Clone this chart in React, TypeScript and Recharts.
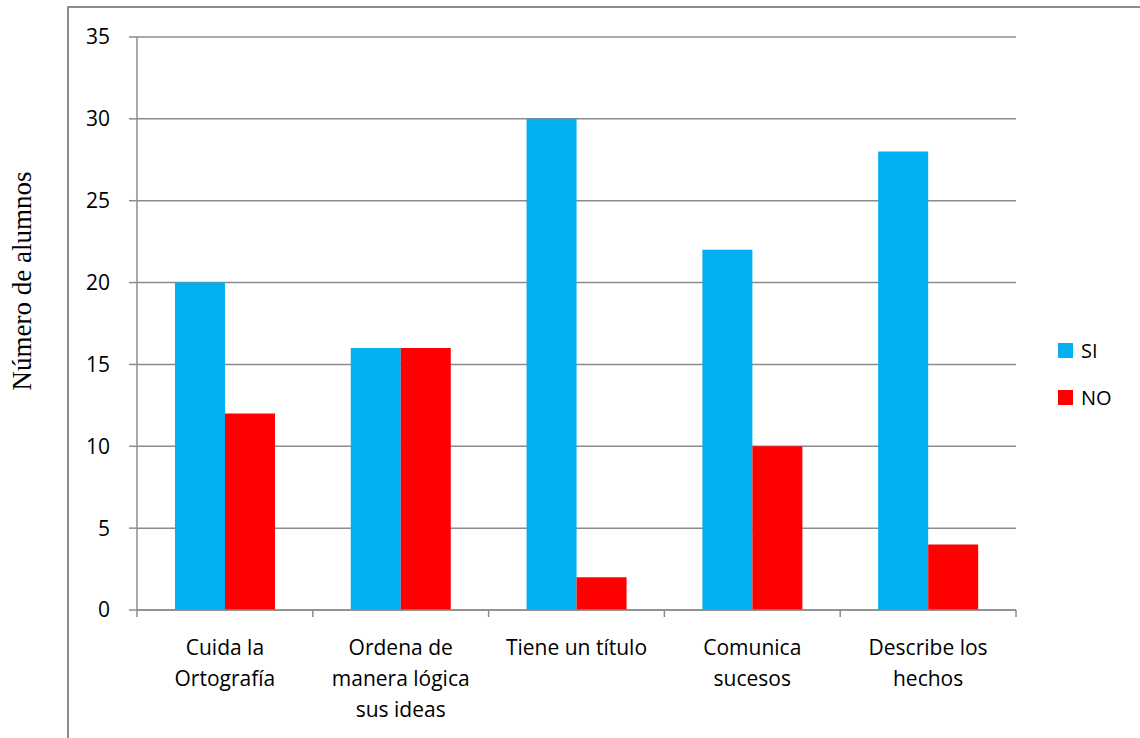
import React from 'react';
import { Bar, BarChart, CartesianGrid, XAxis, YAxis } from 'recharts';

const categories = [
  'Cuida la\nOrtografía',
  'Ordena de\nmanera lógica\nsus ideas',
  'Tiene un título',
  'Comunica\nsucesos',
  'Describe los\nhechos',
];
const siValues = [20, 16, 30, 22, 28];
const noValues = [12, 16, 2, 10, 4];
const yTicks = [0, 5, 10, 15, 20, 25, 30, 35];

const data = categories.map((name, i) => ({ name, SI: siValues[i], NO: noValues[i] }));

const W = 1140;
const H = 738;
const M = { top: 37, right: 124, bottom: 0, left: 0 };
const X_H = 128;
const Y_W = 137;
const BAND = (W - M.right - Y_W) / categories.length;
const FONT = '"Open Sans", sans-serif';
const GRID = '#8c8c8c';

const CategoryTick = ({ x, y, payload, index }: any) => {
  const lines = String(payload.value).split('\n');
  return (
    <g>
      <line x1={x - BAND / 2} x2={x - BAND / 2} y1={y} y2={y + 7} stroke={GRID} strokeWidth={1.5} />
      {index === categories.length - 1 && (
        <line x1={x + BAND / 2} x2={x + BAND / 2} y1={y} y2={y + 7} stroke={GRID} strokeWidth={1.5} />
      )}
      <text textAnchor="middle" fontFamily={FONT} fontSize={21} fill="#000">
        {lines.map((l, i) => (
          <tspan key={i} x={x} y={y + 45 + i * 31}>
            {l}
          </tspan>
        ))}
      </text>
    </g>
  );
};

const legendItems = [
  { label: 'SI', color: '#00B0F0' },
  { label: 'NO', color: '#FF0000' },
];

export default function App() {
  return (
    <div style={{ position: 'absolute', left: 0, top: 0, width: W, height: H, overflow: 'hidden', background: '#fff' }}>
      <div
        style={{
          position: 'absolute',
          left: 67,
          top: 6,
          width: W,
          height: H,
          borderLeft: `2px solid ${GRID}`,
          borderTop: `2px solid ${GRID}`,
        }}
      />
      <div
        style={{
          position: 'absolute',
          left: 22,
          top: 281,
          transform: 'translate(-50%, -50%) rotate(-90deg)',
          whiteSpace: 'nowrap',
          fontFamily: '"Liberation Serif", serif',
          fontSize: 27,
          color: '#000',
        }}
      >
        Número de alumnos
      </div>
      <BarChart
        width={W}
        height={H}
        data={data}
        margin={M}
        barCategoryGap="21.6%"
        barGap={0}
        style={{ position: 'absolute', left: 0, top: 0 }}
      >
        <CartesianGrid vertical={false} stroke={GRID} strokeWidth={1.5} />
        <YAxis
          width={Y_W}
          domain={[0, 35]}
          ticks={yTicks}
          interval={0}
          tickSize={8}
          tickMargin={19}
          axisLine={{ stroke: GRID, strokeWidth: 1.5 }}
          tickLine={{ stroke: GRID, strokeWidth: 1.5 }}
          tick={{ fontFamily: FONT, fontSize: 21, fill: '#000' }}
        />
        <XAxis
          dataKey="name"
          interval={0}
          tickSize={0}
          tickMargin={0}
          height={X_H}
          axisLine={{ stroke: GRID, strokeWidth: 1.5 }}
          tickLine={false}
          tick={<CategoryTick />}
        />
        <Bar dataKey="SI" fill="#00B0F0" isAnimationActive={false} />
        <Bar dataKey="NO" fill="#FF0000" isAnimationActive={false} />
      </BarChart>
      <div style={{ position: 'absolute', left: 1058, top: 327, fontFamily: FONT, fontSize: 20, color: '#000' }}>
        {legendItems.map((it) => (
          <div key={it.label} style={{ display: 'flex', alignItems: 'center', height: 47 }}>
            <span style={{ width: 15, height: 15, background: it.color, marginRight: 8 }} />
            <span>{it.label}</span>
          </div>
        ))}
      </div>
    </div>
  );
}
